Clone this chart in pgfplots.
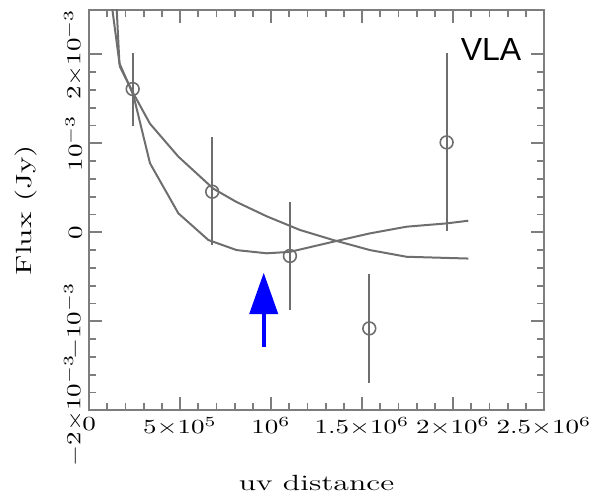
\documentclass[border=0pt]{standalone}
\usepackage{pgfplots}
\pgfplotsset{compat=1.18}
\usepackage{fontspec}
\newfontfamily\labelsans{Liberation Sans}
\usetikzlibrary{arrows.meta,calc}
\definecolor{curve}{RGB}{110,110,110}
\definecolor{frame}{RGB}{125,125,125}
\begin{document}
\begin{tikzpicture}
\begin{axis}[
  scale only axis, width=227.5pt, height=200.25pt,
  xmin=0, xmax=2.5e6, ymin=-2e-3, ymax=2.5e-3,
  scaled ticks=false,
  xtick={0,5e5,1e6,1.5e6,2e6,2.5e6},
  xticklabels={$0$,$5{\times}10^{5}$,$10^{6}$,$1.5{\times}10^{6}$,$2{\times}10^{6}$,$2.5{\times}10^{6}$},
  ytick={-2e-3,-1e-3,0,1e-3,2e-3},
  yticklabels={$-2{\times}10^{-3}$,$-10^{-3}$,$0$,$10^{-3}$,$2{\times}10^{-3}$},
  minor x tick num=4, minor y tick num=4,
  tick align=inside, major tick length=6.5pt, minor tick length=3.5pt,
  axis line style={frame, line width=1pt},
  tick style={frame, line width=0.9pt},
  tick label style={font=\fontsize{10}{12}\selectfont},
  xticklabel style={xscale=1.35},
  yticklabel style={rotate=90, anchor=south, xscale=1.35},
  xlabel={uv distance}, ylabel={Flux (Jy)},
  label style={font=\fontsize{11}{13}\selectfont},
  xlabel style={at={(axis description cs:0.5,0)}, anchor=base, yshift=-40pt, xscale=1.45},
  ylabel style={at={(axis description cs:-0.1385,0.5)}, anchor=center, xscale=1.45},
]
% smooth model
\addplot[curve, line width=1pt] coordinates {
  (0.122e6,2.6e-3)(0.170e6,1.86e-3)(0.244e6,1.56e-3)(0.335e6,1.22e-3)
  (0.491e6,0.85e-3)(0.683e6,0.49e-3)(0.811e6,0.34e-3)(0.976e6,0.18e-3)
  (1.159e6,0.026e-3)(1.342e6,-0.087e-3)(1.544e6,-0.2e-3)(1.745e6,-0.275e-3)
  (2.084e6,-0.295e-3)};
% model with dip
\addplot[curve, line width=1pt] coordinates {
  (0.150e6,2.6e-3)(0.167e6,1.90e-3)(0.244e6,1.54e-3)(0.335e6,0.776e-3)
  (0.491e6,0.213e-3)(0.656e6,-0.087e-3)(0.811e6,-0.2e-3)(0.976e6,-0.236e-3)
  (1.104e6,-0.22e-3)(1.342e6,-0.106e-3)(1.544e6,-0.012e-3)(1.745e6,0.063e-3)
  (1.965e6,0.1e-3)(2.084e6,0.13e-3)};
% binned visibilities
\addplot[only marks, mark=o, mark size=3.2pt, curve, mark options={line width=0.8pt},
  error bars/.cd, y dir=both, y explicit, error mark=none,
  error bar style={curve, line width=1pt}] coordinates {
  (0.240e6,1.61e-3) += (0,0.41e-3) -= (0,0.42e-3)
  (0.677e6,0.456e-3) += (0,0.61e-3) -= (0,0.60e-3)
  (1.104e6,-0.266e-3) += (0,0.61e-3) -= (0,0.61e-3)
  (1.540e6,-1.08e-3) += (0,0.61e-3) -= (0,0.61e-3)
  (1.965e6,1.01e-3) += (0,1.01e-3) -= (0,1.0e-3)};
\draw[blue, line width=2pt, -{Triangle[length=20.7pt,width=14pt]}]
  (axis cs:0.96e6,-1.286e-3) -- (axis cs:0.96e6,-0.454e-3);
\node[font=\labelsans\fontsize{16}{18}\selectfont] at (axis cs:2.209e6,2.05e-3) {VLA};
\coordinate (bbsw) at (rel axis cs:0,0);
\coordinate (bbne) at (rel axis cs:1,1);
\end{axis}
\pgfresetboundingbox
\path[use as bounding box] ($(bbsw)+(-44.5pt,-44.35pt)$) rectangle ($(bbne)+(26pt,4.9pt)$);
\end{tikzpicture}
\end{document}
